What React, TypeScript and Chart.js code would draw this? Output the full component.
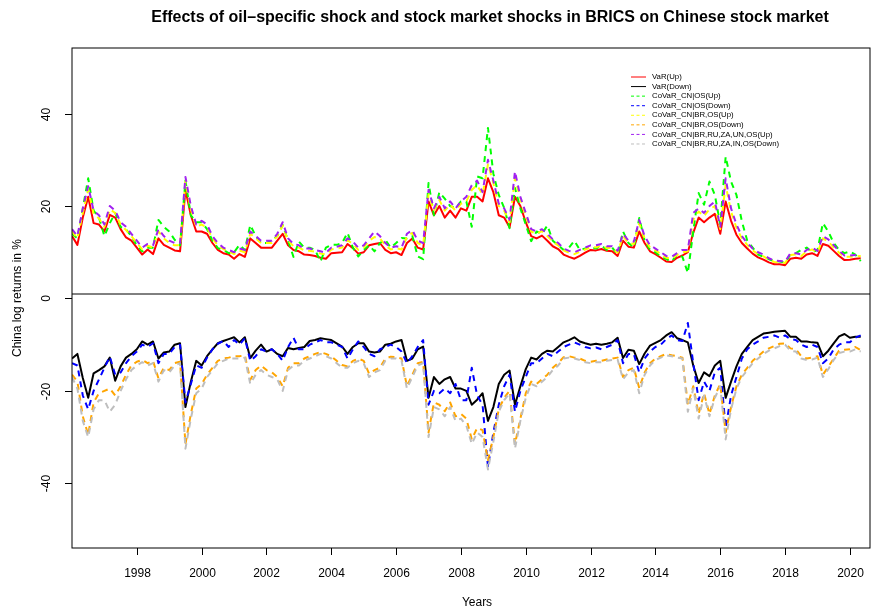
import React, { useEffect, useRef } from "react";
import { Chart, registerables } from "chart.js";
Chart.register(...registerables);

// Bi-monthly observations, starting Jan 1996
const startYear = 1996;
const stepYears = 1 / 6;
const xTickYears = [1998, 2000, 2002, 2004, 2006, 2008, 2010, 2012, 2014, 2016, 2018, 2020];
const yTickValues = [-40, -20, 0, 20, 40];
const zeroLineValue = 1;

const titleText = "Effects of oil\u2013specific shock and stock market shocks in BRICS on Chinese stock market";
const xTitle = "Years";
const yTitle = "China log returns in %";

const seriesNames = [
  "VaR(Up)",
  "VaR(Down)",
  "CoVaR_CN|OS(Up)",
  "CoVaR_CN|OS(Down)",
  "CoVaR_CN|BR,OS(Up)",
  "CoVaR_CN|BR,OS(Down)",
  "CoVaR_CN|BR,RU,ZA,UN,OS(Up)",
  "CoVaR_CN|BR,RU,ZA,IN,OS(Down)",
];

const varUp = [
  13.5, 11.6, 17.5, 22.0, 16.3, 16.0,
  14.5, 18.1, 17.5, 15.0, 13.2, 12.5,
  11.0, 9.5, 10.6, 9.6, 13.0, 11.6,
  11.0, 10.4, 10.2, 23.5, 18.0, 14.5,
  14.5, 14.0, 12.0, 10.5, 9.8, 9.5,
  8.6, 9.6, 9.0, 13.0, 12.0, 11.0,
  11.0, 11.0, 12.5, 14.0, 11.5, 10.5,
  10.2, 9.5, 9.4, 9.2, 8.8, 8.6,
  9.8, 9.9, 10.0, 11.8, 10.9, 9.7,
  10.0, 11.5, 11.8, 12.0, 10.5, 9.8,
  10.0, 9.4, 12.0, 13.0, 11.0, 10.6,
  21.0, 18.0, 20.0, 17.5, 19.0, 17.5,
  19.5, 19.0, 22.0, 22.0, 21.0, 26.0,
  23.0, 18.0, 17.5, 15.4, 22.0, 20.0,
  16.5, 13.5, 13.0, 13.6, 12.5, 11.3,
  10.7, 9.5, 9.0, 8.6, 9.2, 9.9,
  10.5, 10.4, 10.7, 10.3, 10.2, 9.2,
  12.5, 11.2, 11.0, 14.5, 12.0, 10.2,
  9.6, 8.8, 8.0, 7.9, 8.8, 9.3,
  10.0, 14.2, 17.5, 16.5, 17.5, 18.3,
  14.0, 21.0, 16.8, 13.8, 12.0, 10.8,
  9.7, 8.9, 8.4, 7.8, 7.4, 7.4,
  7.2, 8.6, 8.8, 8.6, 9.5, 9.8,
  9.2, 11.8, 11.4, 10.3, 9.2, 8.3,
  8.4, 8.6, 8.7,
];

const varDown = [
  -13.0, -12.0, -17.2, -21.5, -16.2, -15.5,
  -14.7, -12.8, -17.8, -14.7, -12.8, -12.0,
  -11.0, -9.3, -10.0, -9.3, -13.0, -11.7,
  -11.5, -10.0, -9.7, -23.5, -18.0, -13.5,
  -14.5, -12.5, -11.0, -9.7, -9.2, -8.8,
  -8.4, -9.5, -8.4, -12.9, -11.3, -10.0,
  -11.5, -11.0, -12.0, -12.5, -10.7, -11.0,
  -10.7, -10.5, -9.2, -9.0, -8.6, -8.8,
  -9.0, -9.7, -10.4, -12.0, -10.5, -9.7,
  -9.7, -11.5, -11.7, -11.5, -10.0, -9.8,
  -9.3, -9.0, -13.5, -13.0, -11.0, -10.4,
  -21.5, -17.0, -18.5, -17.5, -17.0, -19.5,
  -19.5, -20.0, -23.0, -21.9, -20.5, -26.5,
  -23.5, -18.5, -16.5, -15.6, -23.0, -19.0,
  -15.3, -12.8, -13.2, -12.0, -11.3, -11.5,
  -10.5, -9.5, -9.0, -8.4, -9.3, -9.7,
  -10.0, -9.8, -10.0, -9.8, -9.5, -8.5,
  -12.9, -11.1, -11.3, -14.2, -11.9, -10.2,
  -9.6, -9.0, -8.0, -7.3, -8.6, -9.0,
  -9.5, -14.5, -18.3, -16.0, -16.8, -14.5,
  -13.5, -21.5, -18.0, -14.7, -12.0, -10.5,
  -9.0, -8.3, -7.6, -7.4, -7.2, -7.1,
  -7.0, -8.3, -8.3, -9.3, -9.3, -9.5,
  -9.6, -12.5, -11.3, -9.7, -8.2, -7.7,
  -8.5, -8.3, -8.3,
];

const covarOsUp = [
  14.0, 13.0, 19.5, 26.0, 19.0, 17.5,
  13.5, 16.3, 18.5, 15.5, 14.9, 13.5,
  11.5, 10.2, 11.0, 11.0, 17.0, 15.5,
  14.5, 12.7, 11.5, 25.5, 18.0, 16.5,
  16.5, 15.0, 12.5, 10.9, 10.5, 9.8,
  10.0, 11.6, 10.5, 15.9, 13.5, 12.0,
  12.0, 12.5, 13.5, 15.9, 12.5, 9.0,
  12.3, 11.0, 11.0, 10.5, 8.0, 11.0,
  11.6, 11.6, 12.0, 14.2, 11.0, 9.1,
  10.5, 11.5, 10.2, 12.0, 12.7, 11.0,
  12.0, 13.1, 13.0, 13.5, 9.1, 8.5,
  25.0, 18.0, 23.0, 21.6, 20.0, 19.5,
  21.0, 21.0, 15.5, 26.4, 26.0, 36.9,
  27.0, 22.4, 19.6, 15.2, 23.9, 19.5,
  16.0, 12.4, 14.5, 14.0, 15.8, 12.5,
  11.5, 10.5, 11.0, 12.5, 10.5, 10.8,
  11.0, 10.8, 11.5, 10.5, 11.0, 9.5,
  14.5, 12.0, 11.0, 17.4, 12.5, 10.5,
  10.0, 9.0, 8.5, 8.0, 9.5, 9.0,
  5.5, 14.5, 22.8, 20.3, 25.3, 22.4,
  16.0, 30.7, 25.3, 22.4, 16.7, 12.5,
  11.0, 9.5, 9.0, 8.5, 8.1, 8.0,
  7.8, 9.5, 9.8, 10.5, 11.0, 10.0,
  10.5, 16.3, 14.5, 12.0, 10.5, 9.8,
  10.2, 9.5, 8.1,
];

const covarOsDown = [
  -14.0, -14.5, -21.0, -24.0, -20.0, -17.5,
  -15.0, -12.6, -16.5, -16.0, -14.0, -12.5,
  -11.5, -10.0, -10.5, -9.7, -14.0, -12.0,
  -12.0, -10.5, -10.0, -22.5, -18.5, -14.5,
  -15.0, -12.8, -11.0, -9.8, -9.2, -10.5,
  -9.0, -10.0, -8.6, -13.5, -12.5, -11.0,
  -11.5, -11.0, -12.0, -13.5, -10.5, -8.5,
  -11.0, -11.0, -10.0, -9.5, -9.0, -9.5,
  -9.5, -10.0, -10.5, -13.0, -11.0, -9.3,
  -10.5, -12.0, -12.5, -11.0, -10.5, -10.0,
  -10.5, -11.5, -14.0, -12.5, -10.5, -9.0,
  -23.0, -20.0, -20.5, -19.5, -20.5, -18.5,
  -22.0, -22.0, -15.0, -21.0, -23.0, -36.5,
  -29.0, -23.0, -19.0, -16.5, -24.5, -20.0,
  -17.0, -14.0, -14.0, -13.0, -12.0, -12.5,
  -11.5, -10.5, -10.0, -9.5, -10.0, -10.5,
  -10.8, -10.6, -11.0, -10.5, -10.0, -9.0,
  -14.0, -12.0, -12.0, -16.0, -13.0, -11.5,
  -10.5, -10.0, -8.8, -8.0, -9.0, -9.2,
  -5.3, -14.0, -22.0, -18.0, -20.0, -16.0,
  -15.0, -28.0, -21.0, -17.0, -13.0, -11.0,
  -10.0, -9.3, -8.5, -8.3, -8.0, -8.5,
  -8.0, -8.8, -9.0, -10.0, -10.5, -10.0,
  -10.5, -14.0, -13.0, -11.0, -10.0, -9.5,
  -9.5, -8.5, -8.0,
];

const covarBrOsUp = [
  14.5, 13.0, 18.5, 23.5, 18.3, 17.3,
  15.5, 19.3, 18.5, 16.0, 14.8, 13.5,
  12.0, 10.6, 11.4, 11.0, 14.5, 13.0,
  12.0, 11.5, 11.5, 25.3, 19.3, 15.5,
  16.0, 15.3, 13.0, 11.5, 10.7, 10.2,
  9.6, 10.4, 10.0, 14.0, 13.0, 12.0,
  12.0, 12.0, 13.5, 15.8, 12.5, 11.3,
  11.0, 10.4, 10.3, 10.1, 9.7, 9.5,
  10.6, 10.8, 11.0, 12.6, 11.8, 10.5,
  11.0, 12.5, 13.3, 13.0, 11.5, 10.6,
  10.9, 10.6, 13.3, 14.2, 12.0, 11.5,
  22.5, 19.0, 21.3, 19.0, 20.3, 19.0,
  20.5, 21.0, 23.5, 24.5, 22.5, 29.0,
  25.0, 20.0, 19.0, 16.5, 26.0, 21.5,
  18.0, 14.5, 14.0, 14.6, 13.5, 12.3,
  11.5, 10.4, 9.9, 9.6, 10.1, 10.6,
  11.1, 11.1, 11.4, 10.9, 10.9, 9.9,
  13.5, 12.0, 11.8, 16.2, 13.0, 11.0,
  10.4, 9.6, 8.8, 8.6, 9.4, 10.0,
  10.2, 17.0, 18.8, 17.8, 19.3, 20.0,
  15.0, 24.5, 18.8, 15.3, 13.0, 11.6,
  10.4, 9.6, 9.1, 8.4, 7.9, 7.8,
  7.7, 9.4, 9.5, 9.2, 10.2, 10.6,
  9.9, 13.0, 12.3, 11.0, 9.9, 9.0,
  9.0, 9.1, 9.2,
];

const covarBrOsDown = [
  -16.5, -18.0, -25.5, -29.5, -22.5, -20.5,
  -20.0, -19.5, -21.0, -19.0, -16.5, -14.5,
  -13.7, -13.3, -14.0, -13.5, -17.3, -15.0,
  -15.5, -14.0, -13.7, -31.5, -25.0, -19.5,
  -18.5, -16.5, -15.0, -13.5, -13.0, -12.8,
  -12.5, -12.5, -12.3, -17.6, -15.5, -14.5,
  -15.5, -16.0, -17.0, -19.0, -15.0, -14.0,
  -14.0, -13.0, -12.5, -12.0, -11.6, -12.0,
  -12.5, -13.5, -14.4, -14.7, -13.5, -13.0,
  -13.5, -16.3, -15.5, -15.0, -13.0, -12.6,
  -12.7, -13.0, -19.0, -16.5, -14.0, -13.7,
  -29.0, -22.5, -23.0, -24.4, -22.5, -25.5,
  -25.0, -26.0, -30.5, -28.0, -28.5, -35.0,
  -30.0, -24.0, -21.5, -20.0, -31.5, -26.0,
  -20.5, -18.0, -18.5, -17.5, -16.5, -15.0,
  -14.0, -12.7, -12.5, -12.8, -13.0, -13.5,
  -13.7, -13.5, -13.5, -13.2, -13.0, -12.8,
  -17.0, -15.5, -15.0, -19.4, -16.0, -14.0,
  -13.0, -12.5, -12.0, -12.3, -12.5, -12.8,
  -23.0, -19.0, -25.0, -20.5, -25.0, -21.0,
  -18.5, -29.0, -23.5, -19.0, -16.5, -15.0,
  -13.5, -12.5, -11.5, -10.8, -10.3, -9.8,
  -9.7, -10.8, -11.0, -12.5, -13.0, -12.8,
  -12.5, -16.5, -14.8, -13.0, -11.3, -11.1,
  -11.0, -10.5, -11.2,
];

const covarBricsOsUp = [
  15.0, 13.5, 19.5, 24.3, 19.0, 18.0,
  16.0, 20.0, 19.0, 16.5, 15.5, 14.0,
  12.5, 11.0, 11.8, 11.5, 15.0, 13.5,
  12.5, 12.0, 12.0, 26.3, 20.0, 16.0,
  16.8, 16.0, 13.5, 12.0, 11.0, 10.5,
  10.0, 10.8, 10.5, 14.5, 13.5, 12.5,
  12.5, 12.5, 14.0, 16.5, 13.0, 11.8,
  11.5, 10.8, 10.8, 10.5, 10.2, 9.9,
  11.0, 11.2, 11.5, 13.0, 12.3, 11.0,
  11.5, 13.0, 14.5, 13.5, 12.0, 11.0,
  11.3, 11.0, 14.0, 14.8, 12.5, 12.0,
  23.5, 19.5, 22.0, 19.5, 21.0, 19.5,
  21.0, 22.0, 24.5, 25.5, 23.0, 30.0,
  25.5, 20.5, 19.5, 17.0, 27.5, 22.0,
  18.5, 15.0, 14.5, 15.0, 14.0, 12.8,
  12.0, 10.8, 10.3, 10.0, 10.5, 11.0,
  11.5, 11.5, 11.8, 11.3, 11.3, 10.3,
  14.0, 12.5, 12.3, 17.0, 13.5, 11.5,
  10.8, 10.0, 9.2, 9.0, 9.8, 10.5,
  10.5, 18.5, 19.5, 18.5, 20.0, 21.0,
  15.5, 26.0, 19.5, 16.0, 13.5, 12.0,
  10.8, 10.0, 9.5, 8.7, 8.2, 8.1,
  8.0, 9.8, 9.8, 9.5, 10.5, 11.0,
  10.3, 13.5, 12.8, 11.5, 10.3, 9.3,
  9.3, 9.4, 9.5,
];

const covarBricsOsDown = [
  -17.0, -19.5, -26.5, -30.0, -24.0, -22.0,
  -22.0, -24.5, -23.0, -20.0, -17.5, -15.5,
  -14.5, -13.8, -14.5, -14.0, -18.0, -15.5,
  -16.0, -14.5, -14.0, -32.5, -26.0, -20.5,
  -19.5, -17.0, -15.5, -14.0, -13.5, -13.0,
  -13.0, -13.0, -12.8, -18.5, -16.5, -15.5,
  -16.5, -17.0, -17.5, -20.0, -15.5, -14.5,
  -14.5, -13.5, -13.0, -12.5, -12.0, -12.5,
  -13.0, -14.0, -15.0, -15.0, -14.0, -13.5,
  -14.0, -17.0, -16.0, -15.5, -13.5, -13.0,
  -13.0, -13.5, -19.5, -17.0, -14.5, -14.0,
  -30.0, -23.5, -24.0, -25.5, -23.5, -26.5,
  -26.0, -27.5, -31.5, -29.0, -30.0, -37.0,
  -31.0, -24.5, -22.0, -20.5, -32.5, -26.5,
  -21.5, -18.5, -19.0, -18.0, -17.0, -15.5,
  -14.5, -13.0, -12.8, -13.0, -13.3, -13.8,
  -14.0, -13.8, -13.8, -13.5, -13.3, -13.2,
  -17.5, -16.0, -15.5, -20.5, -16.5, -14.5,
  -13.3, -12.8, -12.3, -12.5, -12.8, -13.0,
  -24.5, -19.5, -26.0, -21.0, -25.5, -21.5,
  -19.0, -30.5, -24.0, -19.5, -17.0, -15.5,
  -14.0, -13.0, -12.0, -11.3, -10.8, -10.3,
  -10.0, -11.3, -11.5, -13.0, -13.3, -13.2,
  -12.8, -17.0, -15.3, -13.3, -11.8, -11.5,
  -11.5, -11.0, -11.5,
];

const allSeries = [varUp, varDown, covarOsUp, covarOsDown, covarBrOsUp, covarBrOsDown, covarBricsOsUp, covarBricsOsDown];
const seriesColors = ["#FF0000", "#000000", "#00FF00", "#0000FF", "#FFFF00", "#FFA500", "#A020F0", "#BEBEBE"];
const seriesDashed = [false, false, true, true, true, true, true, true];

const FONT = "'Liberation Sans', Arial, Helvetica, sans-serif";

export default function App() {
  const ref = useRef<HTMLCanvasElement | null>(null);

  useEffect(() => {
    document.body.style.margin = "0";
    const canvas = ref.current;
    if (!canvas) return;

    const datasets = allSeries.map((vals, s) => ({
      label: seriesNames[s],
      data: vals.map((v, i) => ({ x: startYear + i * stepYears, y: v })),
      borderColor: seriesColors[s],
      backgroundColor: seriesColors[s],
      borderWidth: 2,
      borderDash: seriesDashed[s] ? [6, 5] : [],
      pointRadius: 0,
      tension: 0,
      fill: false,
      order: allSeries.length - s,
    }));

    const decor = {
      id: "decor",
      afterDraw(chart: any) {
        const ctx = chart.ctx as CanvasRenderingContext2D;
        const { left, right, top, bottom } = chart.chartArea;
        const xs = chart.scales.x;
        const ys = chart.scales.y;
        ctx.save();
        ctx.strokeStyle = "#000";
        ctx.fillStyle = "#000";
        ctx.lineWidth = 1;
        ctx.setLineDash([]);

        // zero line
        const yz = Math.round(ys.getPixelForValue(zeroLineValue));
        ctx.beginPath();
        ctx.moveTo(left, yz);
        ctx.lineTo(right, yz);
        ctx.stroke();

        // box
        ctx.strokeRect(Math.round(left), Math.round(top), Math.round(right - left), Math.round(bottom - top));

        // x ticks
        ctx.font = `12px ${FONT}`;
        ctx.textAlign = "center";
        ctx.textBaseline = "middle";
        for (const yr of xTickYears) {
          const px = Math.round(xs.getPixelForValue(yr)) + 0.5;
          ctx.beginPath();
          ctx.moveTo(px, bottom);
          ctx.lineTo(px, bottom + 7);
          ctx.stroke();
          ctx.fillText(String(yr), px, bottom + 26);
        }
        // y ticks
        for (const v of yTickValues) {
          const py = Math.round(ys.getPixelForValue(v)) + 0.5;
          ctx.beginPath();
          ctx.moveTo(left, py);
          ctx.lineTo(left - 7, py);
          ctx.stroke();
          ctx.save();
          ctx.translate(left - 25, py);
          ctx.rotate(-Math.PI / 2);
          ctx.fillText(String(v), 0, 0);
          ctx.restore();
        }

        // axis titles
        ctx.fillText(xTitle, 477, 603);
        ctx.save();
        ctx.translate(18, 298);
        ctx.rotate(-Math.PI / 2);
        ctx.fillText(yTitle, 0, 0);
        ctx.restore();

        // title
        ctx.font = `bold 16px ${FONT}`;
        ctx.fillText(titleText, 490, 18);

        // legend
        ctx.font = `7.8px ${FONT}`;
        ctx.textAlign = "left";
        for (let s = 0; s < seriesNames.length; s++) {
          const ly = 77 + s * 9.57;
          ctx.strokeStyle = seriesColors[s];
          ctx.lineWidth = 1;
          ctx.setLineDash(seriesDashed[s] ? [3, 2.5] : []);
          ctx.beginPath();
          ctx.moveTo(631, ly);
          ctx.lineTo(646, ly);
          ctx.stroke();
          ctx.fillStyle = "#000";
          ctx.fillText(seriesNames[s], 652, ly);
        }
        ctx.restore();
      },
    };

    const chart = new Chart(canvas, {
      type: "line",
      data: { datasets },
      options: {
        animation: false,
        responsive: false,
        maintainAspectRatio: false,
        devicePixelRatio: 1,
        layout: { padding: { left: 72, top: 48, right: 3, bottom: 65 } },
        scales: {
          x: { type: "linear", min: 1996.0, max: 2020.62, display: false },
          y: { type: "linear", min: -54, max: 54.2, display: false },
        },
        plugins: { legend: { display: false }, tooltip: { enabled: false }, title: { display: false } },
        elements: { line: { borderJoinStyle: "round" } },
      },
      plugins: [decor],
    } as any);

    return () => chart.destroy();
  }, []);

  return <canvas ref={ref} width={873} height={613} style={{ display: "block" }} />;
}
